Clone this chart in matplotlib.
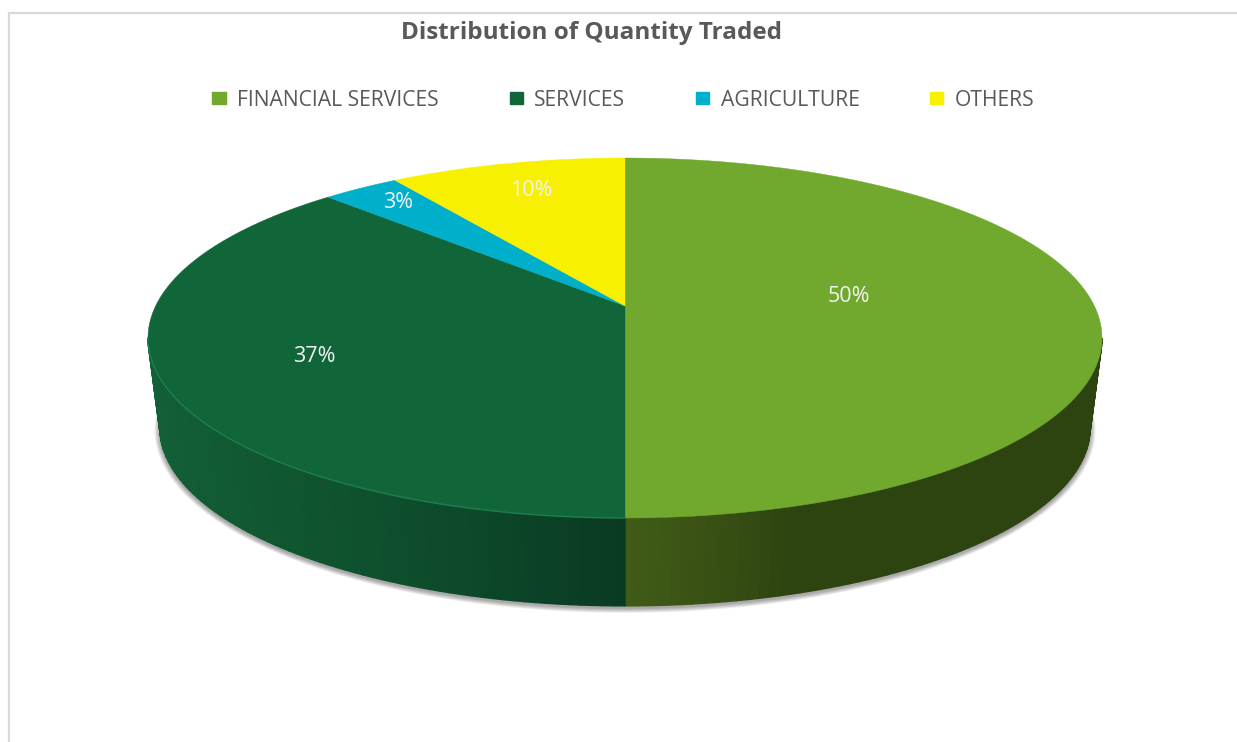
import numpy as np
import matplotlib
matplotlib.use('Agg')
import matplotlib.pyplot as plt
from matplotlib.patches import Ellipse, Patch

categories = ['FINANCIAL SERVICES', 'SERVICES', 'AGRICULTURE', 'OTHERS']
shares     = [50.0, 37.4, 3.1, 9.5]     # labels show 50/37/3/10, angles
top_colors = ['#70A92D', '#116639', '#00B0CB', '#F7F000']
label_text = ['50%', '37%', '3%', '10%']
label_xy   = [(849, 296), (314, 357), (398, 203), (531, 191)]

APEX_X, APEX_Y = 625.0, 306.0
K, A, B        = 0.1778, 174.3, 469.4   # circle -> screen perspective
BASE_DX, BASE_DY, BASE_SHIFT = 0.975, 0.99, 90.0

GREY = '#595959'
FONT = ['Open Sans', 'DejaVu Sans']


def project(theta, base=False):
    u, v = np.cos(theta), np.sin(theta)
    d = 1 + K * v
    x, y = B * u / d, A * v / d
    if base:
        return APEX_X + x * BASE_DX, APEX_Y - y * BASE_DY + BASE_SHIFT
    return APEX_X + x, APEX_Y - y


def side_color(px, xs, cols):
    rgb = np.array([matplotlib.colors.to_rgb(c) for c in cols])
    return tuple(np.interp(px, xs, rgb[:, i]) for i in range(3))


fig = plt.figure(figsize=(12.37, 7.42), dpi=100)
ax = fig.add_axes([0, 0, 1, 1])
ax.set_xlim(0, 1237)
ax.set_ylim(742, 0)
ax.axis('off')

# chart frame, only top and left show in the crop
ax.plot([9, 9, 1237], [742, 13, 13], color='#D9D9D9', lw=1.6, solid_joinstyle='miter', zorder=1)

# soft shadow under the base
for grow in range(7, 0, -1):
    ax.add_patch(Ellipse((625, 430), 2 * 465 + grow * 1.6, 2 * 178 + grow * 1.4,
                         fc='black', ec='none', alpha=0.055, zorder=2))

# slice boundaries, clockwise from 12 o'clock
ends   = np.pi / 2 - 2 * np.pi * np.cumsum(shares) / 100.0
starts = np.r_[np.pi / 2, ends[:-1]]

# extruded side, banded like the original gradient
front = -np.pi / 2
edge  = np.arcsin(-K)
side_bands = [
    (edge, front, [625, 700, 800, 1100], ['#415C17', '#3A5214', '#2D4310', '#2D4310']),
    (front, -np.pi - edge, [150, 300, 450, 560, 625], ['#125F38', '#10552F', '#0D4A2B', '#0B4026', '#093A22']),
]
for t0, t1, xs, cols in side_bands:
    grid = np.linspace(t0, t1, 70)
    for a, b in zip(grid[:-1], grid[1:]):
        xa, ya = project(a)
        xb, yb = project(b)
        xc, yc = project(b, base=True)
        xd, yd = project(a, base=True)
        col = side_color((xa + xb) / 2, xs, cols)
        ax.fill([xa, xb, xc, xd], [ya, yb, yc, yd], fc=col, ec=col, lw=1.0, zorder=3)

# top face
for t0, t1, col in zip(starts, ends, top_colors):
    theta = np.linspace(t0, t1, 200)
    x, y = project(theta)
    ax.fill(np.r_[APEX_X, x], np.r_[APEX_Y, y], fc=col, ec=col, lw=0.3, zorder=4)

# light bevel on the dark green rim
theta = np.linspace(front, -np.pi - edge, 150)
x, y = project(theta)
ax.plot(x, y, color='#1C7F4C', lw=1.0, zorder=5)

for (lx, ly), txt in zip(label_xy, label_text):
    ax.text(lx, ly, txt, color='#F2F2F2', ha='center', va='center', fontsize=15.5,
            family=FONT, zorder=6)

ax.text(591.5, 33, 'Distribution of Quantity Traded', color=GREY, ha='center', va='center',
        fontsize=17.5, fontweight='bold', family=FONT)

handles = [Patch(fc=c, ec=c, label=n) for c, n in zip(top_colors, categories)]
ax.legend(handles=handles, ncol=4, loc='center', bbox_to_anchor=(623.5, 100), bbox_transform=ax.transData,
          frameon=False, labelcolor=GREY, handlelength=0.62, handleheight=0.5, handletextpad=0.55,
          columnspacing=3.35, prop={'family': FONT, 'size': 15.2})

fig.savefig('out.png', dpi=100)
